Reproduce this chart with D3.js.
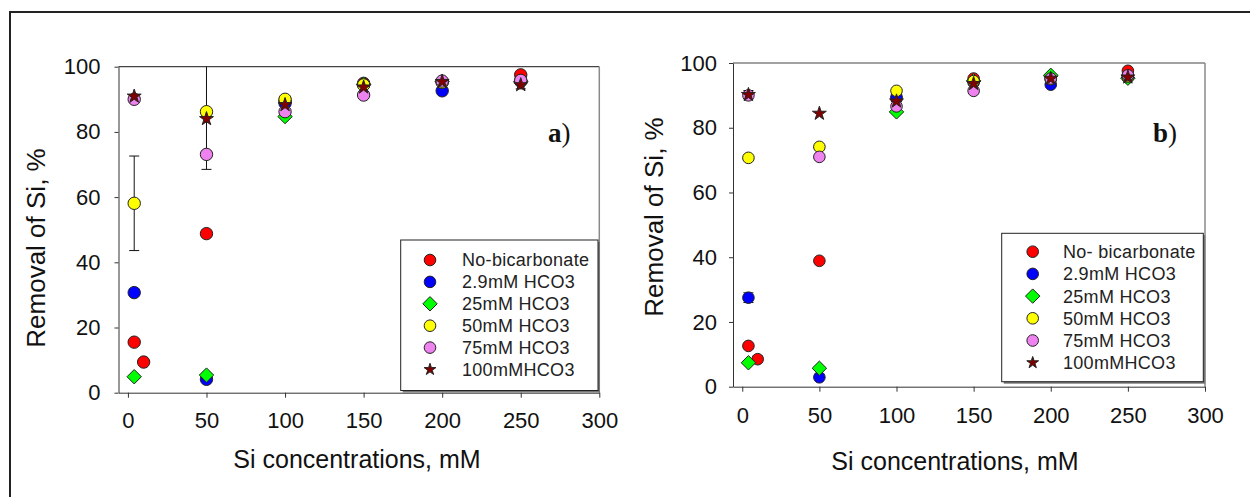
<!DOCTYPE html>
<html>
<head>
<meta charset="utf-8">
<script src="https://cdn.jsdelivr.net/npm/d3@7"></script>
<style>
  html, body { margin: 0; padding: 0; background: #fff; }
  svg { display: block; font-family: "Liberation Sans", Arial, sans-serif; }
</style>
</head>
<body>
<svg id="chart" width="1250" height="497"></svg>
<script>
// Si concentrations (mM) sampled for each series
const xNoBicarb = [4, 10, 50, 100, 150, 200, 250];
const xHco3 = [4, 50, 100, 150, 200, 250];

const seriesNames = ["No-bicarbonate", "2.9mM HCO3", "25mM HCO3", "50mM HCO3", "75mM HCO3", "100mMHCO3"];
const seriesNamesB = ["No- bicarbonate", "2.9mM HCO3", "25mM HCO3", "50mM HCO3", "75mM HCO3", "100mMHCO3"];

// Panel a: removal of Si (%)
const noBicarbA = [15.5, 9.4, 48.8, 89.5, 94.9, 95.3, 97.5];
const hco3_2_9A = [30.7, 4.1, 88.8, 94.5, 92.6, 95.5];
const hco3_25A  = [4.9, 5.4, 84.7, 94.6, 95.5, 95.5];
const hco3_50A  = [58.1, 86.2, 90.0, 94.4, 95.2, 95.6];
const hco3_75A  = [90.0, 73.1, 86.2, 91.3, 95.6, 95.8];
const hco3_100A = [90.9, 84.0, 88.3, 93.7, 95.4, 94.4];
const errNoBicarbA = [0, 0, 0, 0, 0, 0, 0];
const err2_9A  = [0, 0, 0, 0, 0, 0];
const err25A   = [0, 0, 0, 0, 0, 0];
const err50A   = [14.5, 17.7, 0, 0, 0, 0];
const err75A   = [0, 0, 0, 0, 0, 0];
const err100A  = [0, 0, 0, 0, 0, 1.2];

// Panel b: removal of Si (%)
const noBicarbB = [12.6, 8.5, 38.9, 89.0, 95.2, 95.2, 97.6];
const hco3_2_9B = [27.5, 2.9, 89.5, 94.0, 93.3, 95.5];
const hco3_25B  = [7.4, 5.7, 84.9, 94.5, 96.2, 95.3];
const hco3_50B  = [70.7, 74.1, 91.4, 94.4, 95.0, 95.8];
const hco3_75B  = [90.0, 71.0, 86.6, 91.4, 95.2, 96.2];
const hco3_100B = [90.2, 84.4, 88.2, 93.6, 95.2, 95.6];
const errNoBicarbB = [0, 1.0, 0, 0, 0, 0, 0];
const err2_9B  = [1.5, 0, 0, 0, 0, 0];
const err25B   = [0, 0, 0, 0, 0, 0];
const err50B   = [0, 0, 0, 0, 0, 0];
const err75B   = [0, 0, 0, 0, 0, 0];
const err100B  = [1.3, 0, 0, 0, 0, 0];

const xTicks = [0, 50, 100, 150, 200, 250, 300];
const yTicks = [0, 20, 40, 60, 80, 100];

// marker styles per series
const fills = ["#ff0000", "#0000ff", "#00ff00", "#ffff00", "#ee82ee", "#800000"];
const shapes = ["circle", "circle", "diamond", "circle", "circle", "star"];

const svg = d3.select("#chart");

// outer frame
svg.append("path")
  .attr("d", "M10,1260 L10,12 L1260,12")
  .attr("fill", "none").attr("stroke", "#222").attr("stroke-width", 2);

function markerPath(shape, scale) {
  if (shape === "diamond") {
    const h = 7.2 * scale;
    return `M0,${-h}L${h},0L0,${h}L${-h},0Z`;
  }
  if (shape === "star") return d3.symbol(d3.symbolStar, 60 * scale * scale)();
  return null;
}

function drawMarker(g, shape, fill, cx, cy, r, scale) {
  if (shape === "circle") {
    g.append("circle").attr("cx", cx).attr("cy", cy).attr("r", r)
      .attr("fill", fill).attr("stroke", "#222").attr("stroke-width", 1);
  } else {
    g.append("path").attr("d", markerPath(shape, scale))
      .attr("transform", `translate(${cx},${cy})`)
      .attr("fill", fill).attr("stroke", "#222").attr("stroke-width", 1);
  }
}

function drawPanel(p) {
  const x = d3.scaleLinear().domain([-6, 300]).range([p.left, p.right]);
  const y = d3.scaleLinear().domain([0, 100]).range([p.bottom, p.top]);
  const g = svg.append("g");

  // frame: top and right sides of the plotting box
  g.append("line").attr("x1", p.left).attr("x2", p.right).attr("y1", p.top).attr("y2", p.top)
    .attr("stroke", "#444").attr("stroke-width", 1.2);
  g.append("line").attr("x1", p.right).attr("x2", p.right).attr("y1", p.top).attr("y2", p.bottom)
    .attr("stroke", "#8a8a8a").attr("stroke-width", 1.5);

  const xAxis = g.append("g").attr("transform", `translate(0,${p.bottom})`)
    .call(d3.axisBottom(x).tickValues(xTicks).tickSize(5).tickSizeOuter(0).tickPadding(p.xPad));
  const yAxis = g.append("g").attr("transform", `translate(${p.left},0)`)
    .call(d3.axisLeft(y).tickValues(yTicks).tickSize(4).tickSizeOuter(0).tickPadding(p.yPad));
  [xAxis, yAxis].forEach(a => {
    a.selectAll("text").attr("font-size", 22).attr("fill", "#111")
      .attr("font-family", "Liberation Sans, Arial, sans-serif");
    a.select(".domain").attr("stroke", "#333");
    a.selectAll(".tick line").attr("stroke", "#333");
  });

  // axis titles
  g.append("text").attr("x", p.xTitleX).attr("y", p.xTitleY).attr("text-anchor", "middle")
    .attr("font-size", 25).attr("fill", "#111").text("Si concentrations, mM");
  g.append("text").attr("transform", `translate(${p.yTitleX},${p.yTitleY}) rotate(-90)`)
    .attr("text-anchor", "middle").attr("dy", "0.35em")
    .attr("font-size", 26).attr("fill", "#111").text("Removal of Si, %");

  // panel tag
  const tag = g.append("text").attr("x", p.tagX).attr("y", p.tagY)
    .attr("font-family", "Liberation Serif, Times New Roman, serif").attr("font-size", 27).attr("fill", "#111");
  tag.append("tspan").attr("font-weight", "bold").text(p.tag);
  tag.append("tspan").attr("font-weight", "normal").text(")");

  const plot = g.append("g");
  const clipId = "clip" + p.tag;
  svg.append("clipPath").attr("id", clipId).append("rect")
    .attr("x", p.left).attr("y", p.top).attr("width", p.right - p.left).attr("height", p.bottom - p.top);
  const errG = plot.append("g").attr("clip-path", `url(#${clipId})`);

  p.series.forEach((vals, si) => {
    const xs = si === 0 ? xNoBicarb : xHco3;
    const errs = p.errors[si];
    vals.forEach((v, i) => {
      const e = errs[i];
      if (e > 0) {
        const cx = x(xs[i]);
        const y0 = y(v - e), y1 = y(v + e);
        errG.append("line").attr("x1", cx).attr("x2", cx).attr("y1", y0).attr("y2", y1)
          .attr("stroke", "#111").attr("stroke-width", 1);
        [v - e, v + e].forEach(ev => {
          if (ev <= 100) {
            errG.append("line").attr("x1", cx - 5).attr("x2", cx + 5)
              .attr("y1", y(ev)).attr("y2", y(ev)).attr("stroke", "#111").attr("stroke-width", 1);
          }
        });
      }
    });
  });

  p.series.forEach((vals, si) => {
    const xs = si === 0 ? xNoBicarb : xHco3;
    vals.forEach((v, i) => {
      drawMarker(plot, shapes[si], fills[si], x(xs[i]), y(v), p.r, 1);
    });
  });

  // legend
  const L = p.legend;
  const lg = g.append("g");
  lg.append("rect").attr("x", L.x0 + 2).attr("y", L.y0 + 2).attr("width", L.x1 - L.x0).attr("height", L.y1 - L.y0)
    .attr("fill", "#777");
  lg.append("rect").attr("x", L.x0).attr("y", L.y0).attr("width", L.x1 - L.x0).attr("height", L.y1 - L.y0)
    .attr("fill", "#fff").attr("stroke", "#222").attr("stroke-width", 1);
  p.names.forEach((name, si) => {
    const cy = L.rowY + si * L.rowH;
    drawMarker(lg, shapes[si], fills[si], L.mx, cy, 5.8, shapes[si] === "star" ? 0.85 : 1);
    lg.append("text").attr("x", L.tx).attr("y", cy).attr("dy", "0.36em")
      .attr("font-size", 18).attr("fill", "#222").attr("letter-spacing", "0.3px").text(name);
  });
}

drawPanel({
  tag: "a", left: 118.5, right: 599.3, top: 66.7, bottom: 392.7,
  xPad: 15, yPad: 14,
  xTitleX: 357, xTitleY: 468, yTitleX: 36, yTitleY: 248,
  tagX: 548, tagY: 142, r: 6.2,
  series: [noBicarbA, hco3_2_9A, hco3_25A, hco3_50A, hco3_75A, hco3_100A],
  errors: [errNoBicarbA, err2_9A, err25A, err50A, err75A, err100A],
  names: seriesNames,
  legend: { x0: 400.7, y0: 240, x1: 598, y1: 390.5, mx: 430, tx: 462, rowY: 260, rowH: 21.9 }
});

drawPanel({
  tag: "b", left: 733, right: 1205, top: 63, bottom: 386.7,
  xPad: 16, yPad: 12,
  xTitleX: 955, xTitleY: 470, yTitleX: 654, yTitleY: 217,
  tagX: 1153, tagY: 142, r: 5.8,
  series: [noBicarbB, hco3_2_9B, hco3_25B, hco3_50B, hco3_75B, hco3_100B],
  errors: [errNoBicarbB, err2_9B, err25B, err50B, err75B, err100B],
  names: seriesNamesB,
  legend: { x0: 1001.7, y0: 233.3, x1: 1203.3, y1: 381.7, mx: 1032.7, tx: 1063, rowY: 251.7, rowH: 22.2 }
});
</script>
</body>
</html>
